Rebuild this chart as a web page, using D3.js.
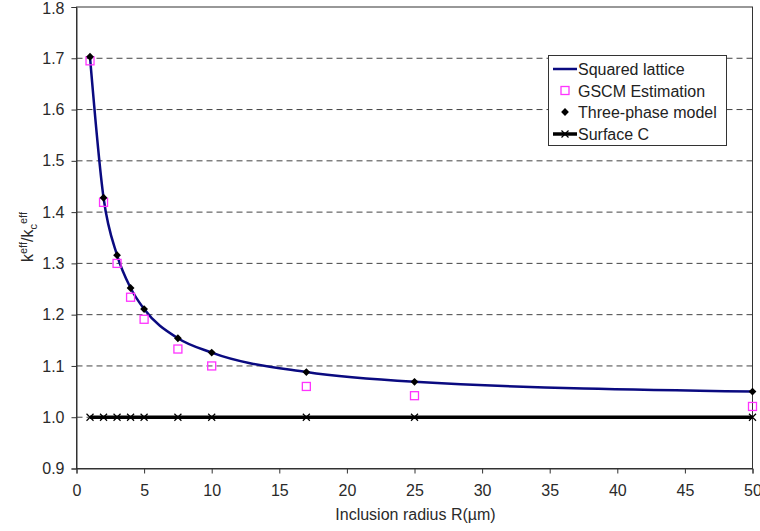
<!DOCTYPE html>
<html>
<head>
<meta charset="utf-8">
<script src="https://cdn.jsdelivr.net/npm/d3@7"></script>
<style>
  html, body { margin: 0; padding: 0; background: #fff; }
  svg { display: block; font-family: "Liberation Sans", Arial, sans-serif; }
</style>
</head>
<body>
<svg id="chart" width="760" height="531"></svg>
<script>
// ---- data ----
const radii = [1, 2, 3, 4, 5, 7.5, 10, 17, 25, 50];
const latticeValues = [1.702, 1.428, 1.316, 1.252, 1.211, 1.154, 1.126, 1.088, 1.069, 1.050];
const gscmValues = [1.695, 1.419, 1.300, 1.234, 1.191, 1.133, 1.100, 1.060, 1.042, 1.021];
const threePhaseValues = [1.703, 1.428, 1.316, 1.252, 1.211, 1.154, 1.126, 1.088, 1.069, 1.050];
const surfaceCValues = [1.0, 1.0, 1.0, 1.0, 1.0, 1.0, 1.0, 1.0, 1.0, 1.0];
const xTicks = [0, 5, 10, 15, 20, 25, 30, 35, 40, 45, 50];
const yTicks = [0.9, 1.0, 1.1, 1.2, 1.3, 1.4, 1.5, 1.6, 1.7, 1.8];
const legendLabels = ["Squared lattice", "GSCM Estimation", "Three-phase model", "Surface C"];

// ---- layout ----
const svg = d3.select("#chart");
const L = 76.5, R = 752.5, T = 7, B = 468.5;
const x = d3.scaleLinear().domain([0, 50]).range([L, R]);
const y = d3.scaleLinear().domain([0.9, 1.8]).range([B, T]);
const axisColor = "#333";
const textColor = "#2a2a2a";
const navy = "#0a0a80";
const pink = "#ff33ff";
const fs = "16px";

// gridlines
svg.append("g").selectAll("line")
  .data(yTicks.filter(v => v > 0.95 && v < 1.75))
  .join("line")
  .attr("x1", L).attr("x2", R)
  .attr("y1", d => y(d)).attr("y2", d => y(d))
  .attr("stroke", "#444").attr("stroke-width", 1)
  .attr("stroke-dasharray", "6,4");

// frame
svg.append("rect")
  .attr("x", L).attr("y", T).attr("width", R - L).attr("height", B - T)
  .attr("fill", "none").attr("stroke", axisColor).attr("stroke-width", 1);

// axes
const yAxis = svg.append("g").attr("transform", `translate(${L},0)`)
  .call(d3.axisLeft(y).tickValues(yTicks).tickFormat(d3.format(".1f")).tickSize(5).tickPadding(7));
const xAxis = svg.append("g").attr("transform", `translate(0,${B})`)
  .call(d3.axisBottom(x).tickValues(xTicks).tickFormat(d3.format("d")).tickSize(5).tickPadding(11));
[yAxis, xAxis].forEach(g => {
  g.select(".domain").attr("stroke", axisColor);
  g.selectAll(".tick line").attr("stroke", axisColor);
  g.selectAll(".tick text").attr("fill", textColor)
    .style("font-size", fs).style("font-family", "Liberation Sans, Arial, sans-serif");
});
yAxis.selectAll(".tick text").filter(d => d === 1.8).attr("dy", "0.40em");

// axis titles
svg.append("text")
  .attr("x", (L + R) / 2 + 1).attr("y", 520)
  .attr("text-anchor", "middle").attr("fill", textColor)
  .style("font-size", fs)
  .text("Inclusion radius R(\u00b5m)");

const yl = svg.append("text")
  .attr("transform", `translate(33,237) rotate(-90)`)
  .attr("text-anchor", "middle").attr("fill", textColor)
  .style("font-size", fs);
yl.append("tspan").text("k");
yl.append("tspan").attr("dy", -6).style("font-size", "11px").text("eff");
yl.append("tspan").attr("dy", 6).text("/k");
yl.append("tspan").attr("dy", 4).style("font-size", "11px").text("c");
yl.append("tspan").attr("dy", -10).style("font-size", "11px").text("eff");

// Surface C
const pts = (vals) => radii.map((r, i) => [r, vals[i]]);
svg.append("path")
  .datum(pts(surfaceCValues))
  .attr("d", d3.line().x(d => x(d[0])).y(d => y(d[1])))
  .attr("fill", "none").attr("stroke", "#000").attr("stroke-width", 3.5);
const xMark = (g, cx, cy) => {
  g.append("path")
    .attr("d", `M${cx - 3.5},${cy - 3.5}L${cx + 3.5},${cy + 3.5}M${cx - 3.5},${cy + 3.5}L${cx + 3.5},${cy - 3.5}`)
    .attr("stroke", "#000").attr("stroke-width", 1.2).attr("fill", "none");
};
const gx = svg.append("g");
pts(surfaceCValues).forEach(d => xMark(gx, x(d[0]), y(d[1])));

// Squared lattice
svg.append("path")
  .datum(pts(latticeValues))
  .attr("d", d3.line().x(d => x(d[0])).y(d => y(d[1])).curve(d3.curveMonotoneX))
  .attr("fill", "none").attr("stroke", navy).attr("stroke-width", 2.5);

// GSCM squares
svg.append("g").selectAll("rect")
  .data(pts(gscmValues))
  .join("rect")
  .attr("x", d => x(d[0]) - 4).attr("y", d => y(d[1]) - 4)
  .attr("width", 8).attr("height", 8)
  .attr("fill", "none").attr("stroke", pink).attr("stroke-width", 1.3);

// Three-phase diamonds
const diamond = (cx, cy, s) => `M${cx},${cy - s}L${cx + s},${cy}L${cx},${cy + s}L${cx - s},${cy}Z`;
svg.append("g").selectAll("path")
  .data(pts(threePhaseValues))
  .join("path")
  .attr("d", d => diamond(x(d[0]), y(d[1]), 3.9))
  .attr("fill", "#000");

// legend
const lg = svg.append("g");
lg.append("rect")
  .attr("x", 548.5).attr("y", 55.5).attr("width", 178).attr("height", 90)
  .attr("fill", "#fff").attr("stroke", axisColor).attr("stroke-width", 1);
const rowY = [69, 90.5, 112, 134];
const sx = 565;
lg.append("line").attr("x1", 553).attr("x2", 577).attr("y1", rowY[0]).attr("y2", rowY[0])
  .attr("stroke", navy).attr("stroke-width", 2.5);
lg.append("rect").attr("x", sx - 4).attr("y", rowY[1] - 4).attr("width", 8).attr("height", 8)
  .attr("fill", "none").attr("stroke", pink).attr("stroke-width", 1.3);
lg.append("path").attr("d", diamond(sx, rowY[2], 3.9)).attr("fill", "#000");
lg.append("line").attr("x1", 553).attr("x2", 577).attr("y1", rowY[3]).attr("y2", rowY[3])
  .attr("stroke", "#000").attr("stroke-width", 3.5);
xMark(lg, sx, rowY[3]);
lg.selectAll("text.lab")
  .data(legendLabels)
  .join("text")
  .attr("class", "lab")
  .attr("x", 578).attr("y", (d, i) => rowY[i] + 6)
  .attr("fill", "#222")
  .style("font-size", fs)
  .text(d => d);
</script>
</body>
</html>
